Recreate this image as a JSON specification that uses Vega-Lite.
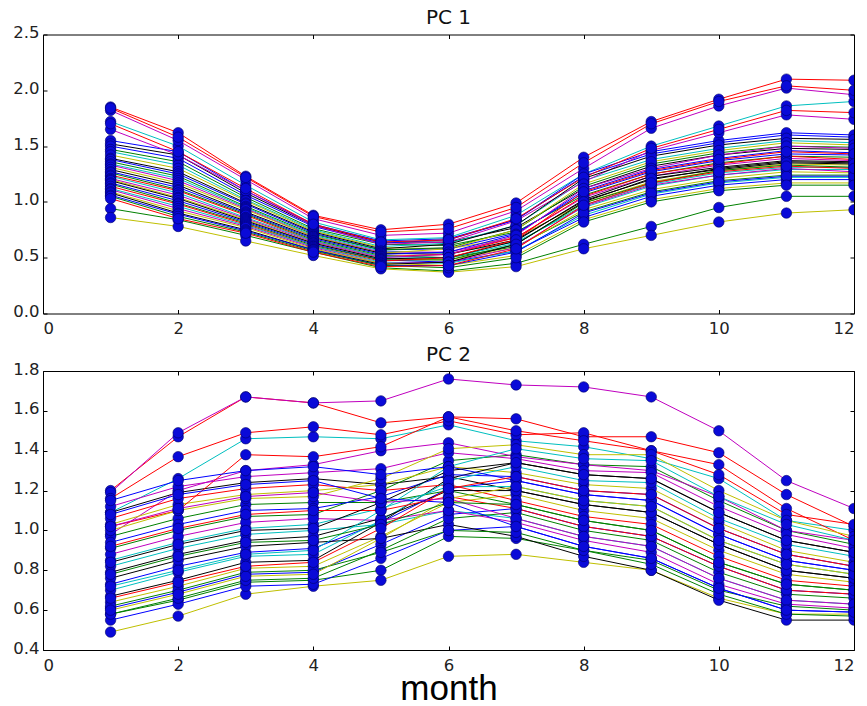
{
"$schema": "https://vega.github.io/schema/vega-lite/v6.json",
"background": "white",
"padding": {"left": 12, "top": 7.5, "right": 5, "bottom": 0},
"spacing": 6.5,
"config": {
  "view": {"stroke": "black", "strokeWidth": 1},
  "font": "DejaVu Sans",
  "axis": {"grid": false, "domain": false, "tickColor": "black", "tickSize": -4, "labelFontSize": 16.5, "labelColor": "#222", "labelFont": "DejaVu Sans", "titleFontWeight": "normal"},
  "axisLeft": {"labelPadding": 8, "labelOffset": -2},
  "axisBottom": {"labelPadding": 11},
  "title": {"fontSize": 20, "fontWeight": "normal", "font": "DejaVu Sans", "color": "#111", "anchor": "middle", "offset": -3.5}
},
"data": {"values": [
{"s":0,"m":1,"pc1":1.55,"pc2":0.73},{"s":0,"m":2,"pc1":1.45,"pc2":0.82},{"s":0,"m":3,"pc1":1.10,"pc2":0.89},{"s":0,"m":4,"pc1":0.80,"pc2":0.91},{"s":0,"m":5,"pc1":0.65,"pc2":1.04},{"s":0,"m":6,"pc1":0.67,"pc2":1.21},{"s":0,"m":7,"pc1":0.84,"pc2":1.25},{"s":0,"m":8,"pc1":1.23,"pc2":1.18},{"s":0,"m":9,"pc1":1.43,"pc2":1.15},{"s":0,"m":10,"pc1":1.53,"pc2":0.98},{"s":0,"m":11,"pc1":1.60,"pc2":0.85},{"s":0,"m":12,"pc1":1.58,"pc2":0.80},
{"s":1,"m":1,"pc1":0.94,"pc2":0.58},{"s":1,"m":2,"pc1":0.84,"pc2":0.65},{"s":1,"m":3,"pc1":0.70,"pc2":0.74},{"s":1,"m":4,"pc1":0.55,"pc2":0.75},{"s":1,"m":5,"pc1":0.41,"pc2":0.80},{"s":1,"m":6,"pc1":0.38,"pc2":0.97},{"s":1,"m":7,"pc1":0.45,"pc2":0.96},{"s":1,"m":8,"pc1":0.62,"pc2":0.90},{"s":1,"m":9,"pc1":0.78,"pc2":0.85},{"s":1,"m":10,"pc1":0.95,"pc2":0.70},{"s":1,"m":11,"pc1":1.05,"pc2":0.62},{"s":1,"m":12,"pc1":1.05,"pc2":0.60},
{"s":2,"m":1,"pc1":1.85,"pc2":1.20},{"s":2,"m":2,"pc1":1.62,"pc2":1.47},{"s":2,"m":3,"pc1":1.23,"pc2":1.67},{"s":2,"m":4,"pc1":0.88,"pc2":1.64},{"s":2,"m":5,"pc1":0.75,"pc2":1.54},{"s":2,"m":6,"pc1":0.80,"pc2":1.57},{"s":2,"m":7,"pc1":0.99,"pc2":1.56},{"s":2,"m":8,"pc1":1.40,"pc2":1.47},{"s":2,"m":9,"pc1":1.72,"pc2":1.47},{"s":2,"m":10,"pc1":1.92,"pc2":1.39},{"s":2,"m":11,"pc1":2.10,"pc2":1.18},{"s":2,"m":12,"pc1":2.09,"pc2":1.02},
{"s":3,"m":1,"pc1":1.72,"pc2":1.09},{"s":3,"m":2,"pc1":1.50,"pc2":1.26},{"s":3,"m":3,"pc1":1.15,"pc2":1.46},{"s":3,"m":4,"pc1":0.82,"pc2":1.47},{"s":3,"m":5,"pc1":0.66,"pc2":1.46},{"s":3,"m":6,"pc1":0.68,"pc2":1.53},{"s":3,"m":7,"pc1":0.88,"pc2":1.45},{"s":3,"m":8,"pc1":1.25,"pc2":1.42},{"s":3,"m":9,"pc1":1.50,"pc2":1.36},{"s":3,"m":10,"pc1":1.68,"pc2":1.26},{"s":3,"m":11,"pc1":1.86,"pc2":1.05},{"s":3,"m":12,"pc1":1.90,"pc2":1.00},
{"s":4,"m":1,"pc1":1.82,"pc2":1.19},{"s":4,"m":2,"pc1":1.55,"pc2":1.49},{"s":4,"m":3,"pc1":1.20,"pc2":1.67},{"s":4,"m":4,"pc1":0.85,"pc2":1.64},{"s":4,"m":5,"pc1":0.70,"pc2":1.65},{"s":4,"m":6,"pc1":0.72,"pc2":1.76},{"s":4,"m":7,"pc1":0.92,"pc2":1.73},{"s":4,"m":8,"pc1":1.30,"pc2":1.72},{"s":4,"m":9,"pc1":1.66,"pc2":1.67},{"s":4,"m":10,"pc1":1.86,"pc2":1.50},{"s":4,"m":11,"pc1":2.02,"pc2":1.25},{"s":4,"m":12,"pc1":1.96,"pc2":1.11},
{"s":5,"m":1,"pc1":0.86,"pc2":0.49},{"s":5,"m":2,"pc1":0.78,"pc2":0.57},{"s":5,"m":3,"pc1":0.65,"pc2":0.68},{"s":5,"m":4,"pc1":0.52,"pc2":0.72},{"s":5,"m":5,"pc1":0.40,"pc2":0.75},{"s":5,"m":6,"pc1":0.37,"pc2":0.87},{"s":5,"m":7,"pc1":0.42,"pc2":0.88},{"s":5,"m":8,"pc1":0.58,"pc2":0.84},{"s":5,"m":9,"pc1":0.70,"pc2":0.80},{"s":5,"m":10,"pc1":0.82,"pc2":0.66},{"s":5,"m":11,"pc1":0.90,"pc2":0.58},{"s":5,"m":12,"pc1":0.93,"pc2":0.58},
{"s":6,"m":1,"pc1":1.52,"pc2":1.09},{"s":6,"m":2,"pc1":1.42,"pc2":1.19},{"s":6,"m":3,"pc1":1.08,"pc2":1.24},{"s":6,"m":4,"pc1":0.79,"pc2":1.26},{"s":6,"m":5,"pc1":0.64,"pc2":1.23},{"s":6,"m":6,"pc1":0.64,"pc2":1.27},{"s":6,"m":7,"pc1":0.77,"pc2":1.20},{"s":6,"m":8,"pc1":1.12,"pc2":1.13},{"s":6,"m":9,"pc1":1.32,"pc2":1.09},{"s":6,"m":10,"pc1":1.42,"pc2":0.93},{"s":6,"m":11,"pc1":1.48,"pc2":0.80},{"s":6,"m":12,"pc1":1.47,"pc2":0.76},
{"s":7,"m":1,"pc1":1.50,"pc2":0.61},{"s":7,"m":2,"pc1":1.39,"pc2":0.69},{"s":7,"m":3,"pc1":1.06,"pc2":0.78},{"s":7,"m":4,"pc1":0.78,"pc2":0.79},{"s":7,"m":5,"pc1":0.63,"pc2":0.93},{"s":7,"m":6,"pc1":0.66,"pc2":1.08},{"s":7,"m":7,"pc1":0.84,"pc2":1.11},{"s":7,"m":8,"pc1":1.25,"pc2":1.02},{"s":7,"m":9,"pc1":1.45,"pc2":0.97},{"s":7,"m":10,"pc1":1.55,"pc2":0.82},{"s":7,"m":11,"pc1":1.62,"pc2":0.70},{"s":7,"m":12,"pc1":1.60,"pc2":0.68},
{"s":8,"m":1,"pc1":1.47,"pc2":0.91},{"s":8,"m":2,"pc1":1.36,"pc2":1.00},{"s":8,"m":3,"pc1":1.04,"pc2":1.07},{"s":8,"m":4,"pc1":0.76,"pc2":1.08},{"s":8,"m":5,"pc1":0.62,"pc2":1.20},{"s":8,"m":6,"pc1":0.61,"pc2":1.35},{"s":8,"m":7,"pc1":0.73,"pc2":1.38},{"s":8,"m":8,"pc1":1.06,"pc2":1.33},{"s":8,"m":9,"pc1":1.25,"pc2":1.32},{"s":8,"m":10,"pc1":1.35,"pc2":1.15},{"s":8,"m":11,"pc1":1.41,"pc2":1.00},{"s":8,"m":12,"pc1":1.40,"pc2":0.93},
{"s":9,"m":1,"pc1":1.84,"pc2":1.16},{"s":9,"m":2,"pc1":1.58,"pc2":1.37},{"s":9,"m":3,"pc1":1.22,"pc2":1.49},{"s":9,"m":4,"pc1":0.87,"pc2":1.52},{"s":9,"m":5,"pc1":0.73,"pc2":1.48},{"s":9,"m":6,"pc1":0.76,"pc2":1.55},{"s":9,"m":7,"pc1":0.95,"pc2":1.48},{"s":9,"m":8,"pc1":1.35,"pc2":1.49},{"s":9,"m":9,"pc1":1.70,"pc2":1.40},{"s":9,"m":10,"pc1":1.90,"pc2":1.33},{"s":9,"m":11,"pc1":2.04,"pc2":1.11},{"s":9,"m":12,"pc1":2.00,"pc2":0.95},
{"s":10,"m":1,"pc1":1.45,"pc2":0.82},{"s":10,"m":2,"pc1":1.33,"pc2":0.91},{"s":10,"m":3,"pc1":1.02,"pc2":0.98},{"s":10,"m":4,"pc1":0.75,"pc2":1.00},{"s":10,"m":5,"pc1":0.60,"pc2":1.03},{"s":10,"m":6,"pc1":0.63,"pc2":1.10},{"s":10,"m":7,"pc1":0.79,"pc2":1.06},{"s":10,"m":8,"pc1":1.19,"pc2":0.97},{"s":10,"m":9,"pc1":1.38,"pc2":0.92},{"s":10,"m":10,"pc1":1.48,"pc2":0.76},{"s":10,"m":11,"pc1":1.55,"pc2":0.65},{"s":10,"m":12,"pc1":1.53,"pc2":0.63},
{"s":11,"m":1,"pc1":1.65,"pc2":0.98},{"s":11,"m":2,"pc1":1.42,"pc2":1.20},{"s":11,"m":3,"pc1":1.10,"pc2":1.30},{"s":11,"m":4,"pc1":0.79,"pc2":1.33},{"s":11,"m":5,"pc1":0.62,"pc2":1.40},{"s":11,"m":6,"pc1":0.64,"pc2":1.44},{"s":11,"m":7,"pc1":0.83,"pc2":1.37},{"s":11,"m":8,"pc1":1.18,"pc2":1.33},{"s":11,"m":9,"pc1":1.46,"pc2":1.30},{"s":11,"m":10,"pc1":1.62,"pc2":1.17},{"s":11,"m":11,"pc1":1.78,"pc2":1.00},{"s":11,"m":12,"pc1":1.74,"pc2":0.95},
{"s":12,"m":1,"pc1":1.42,"pc2":1.03},{"s":12,"m":2,"pc1":1.30,"pc2":1.13},{"s":12,"m":3,"pc1":1.01,"pc2":1.18},{"s":12,"m":4,"pc1":0.74,"pc2":1.20},{"s":12,"m":5,"pc1":0.59,"pc2":1.23},{"s":12,"m":6,"pc1":0.58,"pc2":1.32},{"s":12,"m":7,"pc1":0.68,"pc2":1.29},{"s":12,"m":8,"pc1":0.99,"pc2":1.23},{"s":12,"m":9,"pc1":1.18,"pc2":1.21},{"s":12,"m":10,"pc1":1.28,"pc2":1.04},{"s":12,"m":11,"pc1":1.34,"pc2":0.90},{"s":12,"m":12,"pc1":1.33,"pc2":0.84},
{"s":13,"m":1,"pc1":1.39,"pc2":0.67},{"s":13,"m":2,"pc1":1.27,"pc2":0.75},{"s":13,"m":3,"pc1":0.99,"pc2":0.84},{"s":13,"m":4,"pc1":0.73,"pc2":0.85},{"s":13,"m":5,"pc1":0.58,"pc2":1.04},{"s":13,"m":6,"pc1":0.62,"pc2":1.26},{"s":13,"m":7,"pc1":0.79,"pc2":1.34},{"s":13,"m":8,"pc1":1.21,"pc2":1.28},{"s":13,"m":9,"pc1":1.41,"pc2":1.26},{"s":13,"m":10,"pc1":1.51,"pc2":1.09},{"s":13,"m":11,"pc1":1.57,"pc2":0.95},{"s":13,"m":12,"pc1":1.56,"pc2":0.89},
{"s":14,"m":1,"pc1":1.38,"pc2":0.55},{"s":14,"m":2,"pc1":1.25,"pc2":0.63},{"s":14,"m":3,"pc1":0.98,"pc2":0.72},{"s":14,"m":4,"pc1":0.72,"pc2":0.73},{"s":14,"m":5,"pc1":0.57,"pc2":0.86},{"s":14,"m":6,"pc1":0.58,"pc2":1.00},{"s":14,"m":7,"pc1":0.72,"pc2":1.02},{"s":14,"m":8,"pc1":1.08,"pc2":0.92},{"s":14,"m":9,"pc1":1.27,"pc2":0.86},{"s":14,"m":10,"pc1":1.37,"pc2":0.71},{"s":14,"m":11,"pc1":1.43,"pc2":0.60},{"s":14,"m":12,"pc1":1.42,"pc2":0.59},
{"s":15,"m":1,"pc1":1.36,"pc2":0.97},{"s":15,"m":2,"pc1":1.23,"pc2":1.06},{"s":15,"m":3,"pc1":0.96,"pc2":1.13},{"s":15,"m":4,"pc1":0.71,"pc2":1.14},{"s":15,"m":5,"pc1":0.57,"pc2":1.14},{"s":15,"m":6,"pc1":0.59,"pc2":1.20},{"s":15,"m":7,"pc1":0.75,"pc2":1.13},{"s":15,"m":8,"pc1":1.14,"pc2":1.05},{"s":15,"m":9,"pc1":1.34,"pc2":1.00},{"s":15,"m":10,"pc1":1.44,"pc2":0.84},{"s":15,"m":11,"pc1":1.50,"pc2":0.73},{"s":15,"m":12,"pc1":1.49,"pc2":0.70},
{"s":16,"m":1,"pc1":1.70,"pc2":1.02},{"s":16,"m":2,"pc1":1.45,"pc2":1.10},{"s":16,"m":3,"pc1":1.12,"pc2":1.38},{"s":16,"m":4,"pc1":0.80,"pc2":1.37},{"s":16,"m":5,"pc1":0.64,"pc2":1.42},{"s":16,"m":6,"pc1":0.66,"pc2":1.57},{"s":16,"m":7,"pc1":0.85,"pc2":1.50},{"s":16,"m":8,"pc1":1.22,"pc2":1.45},{"s":16,"m":9,"pc1":1.48,"pc2":1.40},{"s":16,"m":10,"pc1":1.65,"pc2":1.28},{"s":16,"m":11,"pc1":1.82,"pc2":1.08},{"s":16,"m":12,"pc1":1.80,"pc2":1.03},
{"s":17,"m":1,"pc1":1.34,"pc2":0.85},{"s":17,"m":2,"pc1":1.21,"pc2":0.94},{"s":17,"m":3,"pc1":0.95,"pc2":1.01},{"s":17,"m":4,"pc1":0.70,"pc2":1.03},{"s":17,"m":5,"pc1":0.56,"pc2":1.11},{"s":17,"m":6,"pc1":0.54,"pc2":1.22},{"s":17,"m":7,"pc1":0.64,"pc2":1.22},{"s":17,"m":8,"pc1":0.95,"pc2":1.15},{"s":17,"m":9,"pc1":1.14,"pc2":1.12},{"s":17,"m":10,"pc1":1.24,"pc2":0.95},{"s":17,"m":11,"pc1":1.29,"pc2":0.83},{"s":17,"m":12,"pc1":1.29,"pc2":0.78},
{"s":18,"m":1,"pc1":1.33,"pc2":1.12},{"s":18,"m":2,"pc1":1.19,"pc2":1.22},{"s":18,"m":3,"pc1":0.94,"pc2":1.27},{"s":18,"m":4,"pc1":0.69,"pc2":1.29},{"s":18,"m":5,"pc1":0.55,"pc2":1.31},{"s":18,"m":6,"pc1":0.55,"pc2":1.39},{"s":18,"m":7,"pc1":0.68,"pc2":1.36},{"s":18,"m":8,"pc1":1.04,"pc2":1.30},{"s":18,"m":9,"pc1":1.23,"pc2":1.29},{"s":18,"m":10,"pc1":1.33,"pc2":1.12},{"s":18,"m":11,"pc1":1.39,"pc2":0.98},{"s":18,"m":12,"pc1":1.37,"pc2":0.91},
{"s":19,"m":1,"pc1":1.31,"pc2":0.64},{"s":19,"m":2,"pc1":1.17,"pc2":0.72},{"s":19,"m":3,"pc1":0.93,"pc2":0.81},{"s":19,"m":4,"pc1":0.69,"pc2":0.82},{"s":19,"m":5,"pc1":0.54,"pc2":0.97},{"s":19,"m":6,"pc1":0.58,"pc2":1.14},{"s":19,"m":7,"pc1":0.75,"pc2":1.18},{"s":19,"m":8,"pc1":1.16,"pc2":1.10},{"s":19,"m":9,"pc1":1.36,"pc2":1.06},{"s":19,"m":10,"pc1":1.46,"pc2":0.90},{"s":19,"m":11,"pc1":1.53,"pc2":0.78},{"s":19,"m":12,"pc1":1.51,"pc2":0.74},
{"s":20,"m":1,"pc1":1.29,"pc2":0.76},{"s":20,"m":2,"pc1":1.15,"pc2":0.85},{"s":20,"m":3,"pc1":0.91,"pc2":0.92},{"s":20,"m":4,"pc1":0.68,"pc2":0.94},{"s":20,"m":5,"pc1":0.54,"pc2":0.96},{"s":20,"m":6,"pc1":0.53,"pc2":1.03},{"s":20,"m":7,"pc1":0.66,"pc2":0.97},{"s":20,"m":8,"pc1":1.01,"pc2":0.87},{"s":20,"m":9,"pc1":1.20,"pc2":0.80},{"s":20,"m":10,"pc1":1.30,"pc2":0.65},{"s":20,"m":11,"pc1":1.36,"pc2":0.55},{"s":20,"m":12,"pc1":1.35,"pc2":0.55},
{"s":21,"m":1,"pc1":1.27,"pc2":0.94},{"s":21,"m":2,"pc1":1.13,"pc2":1.03},{"s":21,"m":3,"pc1":0.90,"pc2":1.10},{"s":21,"m":4,"pc1":0.67,"pc2":1.11},{"s":21,"m":5,"pc1":0.53,"pc2":1.17},{"s":21,"m":6,"pc1":0.55,"pc2":1.28},{"s":21,"m":7,"pc1":0.71,"pc2":1.27},{"s":21,"m":8,"pc1":1.10,"pc2":1.20},{"s":21,"m":9,"pc1":1.29,"pc2":1.18},{"s":21,"m":10,"pc1":1.39,"pc2":1.01},{"s":21,"m":11,"pc1":1.46,"pc2":0.88},{"s":21,"m":12,"pc1":1.44,"pc2":0.82},
{"s":22,"m":1,"pc1":1.26,"pc2":0.58},{"s":22,"m":2,"pc1":1.11,"pc2":0.66},{"s":22,"m":3,"pc1":0.89,"pc2":0.75},{"s":22,"m":4,"pc1":0.66,"pc2":0.76},{"s":22,"m":5,"pc1":0.52,"pc2":0.90},{"s":22,"m":6,"pc1":0.50,"pc2":1.06},{"s":22,"m":7,"pc1":0.60,"pc2":1.09},{"s":22,"m":8,"pc1":0.91,"pc2":1.00},{"s":22,"m":9,"pc1":1.09,"pc2":0.95},{"s":22,"m":10,"pc1":1.19,"pc2":0.79},{"s":22,"m":11,"pc1":1.24,"pc2":0.68},{"s":22,"m":12,"pc1":1.24,"pc2":0.66},
{"s":23,"m":1,"pc1":1.24,"pc2":1.06},{"s":23,"m":2,"pc1":1.10,"pc2":1.16},{"s":23,"m":3,"pc1":0.88,"pc2":1.21},{"s":23,"m":4,"pc1":0.65,"pc2":1.23},{"s":23,"m":5,"pc1":0.51,"pc2":1.20},{"s":23,"m":6,"pc1":0.53,"pc2":1.23},{"s":23,"m":7,"pc1":0.68,"pc2":1.15},{"s":23,"m":8,"pc1":1.05,"pc2":1.07},{"s":23,"m":9,"pc1":1.25,"pc2":1.03},{"s":23,"m":10,"pc1":1.34,"pc2":0.87},{"s":23,"m":11,"pc1":1.41,"pc2":0.75},{"s":23,"m":12,"pc1":1.38,"pc2":0.72},
{"s":24,"m":1,"pc1":1.23,"pc2":0.70},{"s":24,"m":2,"pc1":1.08,"pc2":0.79},{"s":24,"m":3,"pc1":0.86,"pc2":0.87},{"s":24,"m":4,"pc1":0.65,"pc2":0.88},{"s":24,"m":5,"pc1":0.51,"pc2":1.05},{"s":24,"m":6,"pc1":0.50,"pc2":1.25},{"s":24,"m":7,"pc1":0.63,"pc2":1.32},{"s":24,"m":8,"pc1":0.97,"pc2":1.25},{"s":24,"m":9,"pc1":1.16,"pc2":1.24},{"s":24,"m":10,"pc1":1.26,"pc2":1.06},{"s":24,"m":11,"pc1":1.31,"pc2":0.93},{"s":24,"m":12,"pc1":1.31,"pc2":0.87},
{"s":25,"m":1,"pc1":1.21,"pc2":0.88},{"s":25,"m":2,"pc1":1.06,"pc2":0.97},{"s":25,"m":3,"pc1":0.85,"pc2":1.04},{"s":25,"m":4,"pc1":0.64,"pc2":1.06},{"s":25,"m":5,"pc1":0.50,"pc2":1.05},{"s":25,"m":6,"pc1":0.53,"pc2":1.10},{"s":25,"m":7,"pc1":0.70,"pc2":1.04},{"s":25,"m":8,"pc1":1.12,"pc2":0.95},{"s":25,"m":9,"pc1":1.30,"pc2":0.89},{"s":25,"m":10,"pc1":1.42,"pc2":0.73},{"s":25,"m":11,"pc1":1.50,"pc2":0.63},{"s":25,"m":12,"pc1":1.48,"pc2":0.61},
{"s":26,"m":1,"pc1":1.20,"pc2":1.00},{"s":26,"m":2,"pc1":1.04,"pc2":1.10},{"s":26,"m":3,"pc1":0.84,"pc2":1.16},{"s":26,"m":4,"pc1":0.63,"pc2":1.17},{"s":26,"m":5,"pc1":0.49,"pc2":1.26},{"s":26,"m":6,"pc1":0.48,"pc2":1.41},{"s":26,"m":7,"pc1":0.59,"pc2":1.43},{"s":26,"m":8,"pc1":0.93,"pc2":1.38},{"s":26,"m":9,"pc1":1.11,"pc2":1.38},{"s":26,"m":10,"pc1":1.21,"pc2":1.20},{"s":26,"m":11,"pc1":1.27,"pc2":1.05},{"s":26,"m":12,"pc1":1.26,"pc2":0.97},
{"s":27,"m":1,"pc1":1.19,"pc2":0.79},{"s":27,"m":2,"pc1":1.03,"pc2":0.88},{"s":27,"m":3,"pc1":0.83,"pc2":0.95},{"s":27,"m":4,"pc1":0.63,"pc2":0.97},{"s":27,"m":5,"pc1":0.49,"pc2":1.06},{"s":27,"m":6,"pc1":0.50,"pc2":1.20},{"s":27,"m":7,"pc1":0.65,"pc2":1.20},{"s":27,"m":8,"pc1":1.02,"pc2":1.13},{"s":27,"m":9,"pc1":1.23,"pc2":1.09},{"s":27,"m":10,"pc1":1.31,"pc2":0.93},{"s":27,"m":11,"pc1":1.37,"pc2":0.80},{"s":27,"m":12,"pc1":1.36,"pc2":0.76},
{"s":28,"m":1,"pc1":1.17,"pc2":1.15},{"s":28,"m":2,"pc1":1.01,"pc2":1.25},{"s":28,"m":3,"pc1":0.82,"pc2":1.30},{"s":28,"m":4,"pc1":0.62,"pc2":1.32},{"s":28,"m":5,"pc1":0.48,"pc2":1.28},{"s":28,"m":6,"pc1":0.46,"pc2":1.32},{"s":28,"m":7,"pc1":0.56,"pc2":1.25},{"s":28,"m":8,"pc1":0.86,"pc2":1.18},{"s":28,"m":9,"pc1":1.05,"pc2":1.15},{"s":28,"m":10,"pc1":1.15,"pc2":0.98},{"s":28,"m":11,"pc1":1.20,"pc2":0.85},{"s":28,"m":12,"pc1":1.20,"pc2":0.80},
{"s":29,"m":1,"pc1":1.16,"pc2":0.62},{"s":29,"m":2,"pc1":0.99,"pc2":0.70},{"s":29,"m":3,"pc1":0.81,"pc2":0.79},{"s":29,"m":4,"pc1":0.61,"pc2":0.80},{"s":29,"m":5,"pc1":0.48,"pc2":0.89},{"s":29,"m":6,"pc1":0.48,"pc2":1.00},{"s":29,"m":7,"pc1":0.62,"pc2":0.99},{"s":29,"m":8,"pc1":0.99,"pc2":0.90},{"s":29,"m":9,"pc1":1.17,"pc2":0.83},{"s":29,"m":10,"pc1":1.28,"pc2":0.68},{"s":29,"m":11,"pc1":1.33,"pc2":0.58},{"s":29,"m":12,"pc1":1.31,"pc2":0.57},
{"s":30,"m":1,"pc1":1.14,"pc2":0.92},{"s":30,"m":2,"pc1":0.98,"pc2":1.01},{"s":30,"m":3,"pc1":0.80,"pc2":1.08},{"s":30,"m":4,"pc1":0.60,"pc2":1.10},{"s":30,"m":5,"pc1":0.47,"pc2":1.10},{"s":30,"m":6,"pc1":0.50,"pc2":1.17},{"s":30,"m":7,"pc1":0.66,"pc2":1.11},{"s":30,"m":8,"pc1":1.09,"pc2":1.02},{"s":30,"m":9,"pc1":1.28,"pc2":0.97},{"s":30,"m":10,"pc1":1.38,"pc2":0.82},{"s":30,"m":11,"pc1":1.45,"pc2":0.70},{"s":30,"m":12,"pc1":1.43,"pc2":0.68},
{"s":31,"m":1,"pc1":1.12,"pc2":0.72},{"s":31,"m":2,"pc1":0.96,"pc2":0.80},{"s":31,"m":3,"pc1":0.79,"pc2":0.88},{"s":31,"m":4,"pc1":0.60,"pc2":0.90},{"s":31,"m":5,"pc1":0.46,"pc2":1.10},{"s":31,"m":6,"pc1":0.45,"pc2":1.32},{"s":31,"m":7,"pc1":0.56,"pc2":1.41},{"s":31,"m":8,"pc1":0.88,"pc2":1.36},{"s":31,"m":9,"pc1":1.07,"pc2":1.35},{"s":31,"m":10,"pc1":1.17,"pc2":1.17},{"s":31,"m":11,"pc1":1.22,"pc2":1.03},{"s":31,"m":12,"pc1":1.22,"pc2":0.95},
{"s":32,"m":1,"pc1":1.11,"pc2":1.02},{"s":32,"m":2,"pc1":0.94,"pc2":1.11},{"s":32,"m":3,"pc1":0.78,"pc2":1.17},{"s":32,"m":4,"pc1":0.59,"pc2":1.19},{"s":32,"m":5,"pc1":0.45,"pc2":1.14},{"s":32,"m":6,"pc1":0.46,"pc2":1.16},{"s":32,"m":7,"pc1":0.59,"pc2":1.06},{"s":32,"m":8,"pc1":0.96,"pc2":0.97},{"s":32,"m":9,"pc1":1.15,"pc2":0.92},{"s":32,"m":10,"pc1":1.24,"pc2":0.76},{"s":32,"m":11,"pc1":1.30,"pc2":0.65},{"s":32,"m":12,"pc1":1.27,"pc2":0.63},
{"s":33,"m":1,"pc1":1.09,"pc2":0.60},{"s":33,"m":2,"pc1":0.92,"pc2":0.68},{"s":33,"m":3,"pc1":0.77,"pc2":0.77},{"s":33,"m":4,"pc1":0.58,"pc2":0.78},{"s":33,"m":5,"pc1":0.45,"pc2":0.96},{"s":33,"m":6,"pc1":0.43,"pc2":1.16},{"s":33,"m":7,"pc1":0.52,"pc2":1.22},{"s":33,"m":8,"pc1":0.84,"pc2":1.15},{"s":33,"m":9,"pc1":1.02,"pc2":1.12},{"s":33,"m":10,"pc1":1.12,"pc2":0.95},{"s":33,"m":11,"pc1":1.17,"pc2":0.83},{"s":33,"m":12,"pc1":1.17,"pc2":0.78},
{"s":34,"m":1,"pc1":1.08,"pc2":0.84},{"s":34,"m":2,"pc1":0.90,"pc2":0.93},{"s":34,"m":3,"pc1":0.75,"pc2":1.00},{"s":34,"m":4,"pc1":0.57,"pc2":1.01},{"s":34,"m":5,"pc1":0.44,"pc2":1.14},{"s":34,"m":6,"pc1":0.46,"pc2":1.30},{"s":34,"m":7,"pc1":0.62,"pc2":1.34},{"s":34,"m":8,"pc1":1.00,"pc2":1.28},{"s":34,"m":9,"pc1":1.21,"pc2":1.26},{"s":34,"m":10,"pc1":1.29,"pc2":1.09},{"s":34,"m":11,"pc1":1.35,"pc2":0.95},{"s":34,"m":12,"pc1":1.34,"pc2":0.89},
{"s":35,"m":1,"pc1":1.06,"pc2":1.08},{"s":35,"m":2,"pc1":0.89,"pc2":1.18},{"s":35,"m":3,"pc1":0.74,"pc2":1.23},{"s":35,"m":4,"pc1":0.57,"pc2":1.25},{"s":35,"m":5,"pc1":0.43,"pc2":1.16},{"s":35,"m":6,"pc1":0.43,"pc2":1.14},{"s":35,"m":7,"pc1":0.55,"pc2":1.02},{"s":35,"m":8,"pc1":0.90,"pc2":0.92},{"s":35,"m":9,"pc1":1.08,"pc2":0.86},{"s":35,"m":10,"pc1":1.18,"pc2":0.71},{"s":35,"m":11,"pc1":1.23,"pc2":0.60},{"s":35,"m":12,"pc1":1.23,"pc2":0.59},
{"s":36,"m":1,"pc1":1.05,"pc2":0.78},{"s":36,"m":2,"pc1":0.87,"pc2":0.87},{"s":36,"m":3,"pc1":0.73,"pc2":0.94},{"s":36,"m":4,"pc1":0.56,"pc2":0.95},{"s":36,"m":5,"pc1":0.43,"pc2":1.03},{"s":36,"m":6,"pc1":0.41,"pc2":1.14},{"s":36,"m":7,"pc1":0.50,"pc2":1.13},{"s":36,"m":8,"pc1":0.82,"pc2":1.05},{"s":36,"m":9,"pc1":1.00,"pc2":1.00},{"s":36,"m":10,"pc1":1.10,"pc2":0.84},{"s":36,"m":11,"pc1":1.15,"pc2":0.73},{"s":36,"m":12,"pc1":1.15,"pc2":0.70},
{"s":37,"m":1,"pc1":1.03,"pc2":0.66},{"s":37,"m":2,"pc1":0.85,"pc2":0.74},{"s":37,"m":3,"pc1":0.72,"pc2":0.82},{"s":37,"m":4,"pc1":0.55,"pc2":0.84},{"s":37,"m":5,"pc1":0.42,"pc2":1.01},{"s":37,"m":6,"pc1":0.43,"pc2":1.21},{"s":37,"m":7,"pc1":0.58,"pc2":1.27},{"s":37,"m":8,"pc1":0.97,"pc2":1.20},{"s":37,"m":9,"pc1":1.17,"pc2":1.18},{"s":37,"m":10,"pc1":1.27,"pc2":1.01},{"s":37,"m":11,"pc1":1.32,"pc2":0.88},{"s":37,"m":12,"pc1":1.30,"pc2":0.82}
]},
"vconcat": [
 {
  "width": 811, "height": 279,
  "title": {"text": "PC 1"},
  "layer": [
   {
    "mark": {"type": "line", "strokeWidth": 1, "clip": true},
    "encoding": {
     "x": {"field": "m", "type": "quantitative", "scale": {"domain": [0, 12], "nice": false}, "axis": {"orient": "bottom", "values": [0,2,4,6,8,10,12], "format": "d", "title": null}},
     "y": {"field": "pc1", "type": "quantitative", "scale": {"domain": [0, 2.5], "nice": false, "zero": false}, "axis": {"orient": "left", "values": [0,0.5,1,1.5,2,2.5], "format": ".1f", "title": null}},
     "color": {"field": "s", "type": "nominal", "scale": {"range": ["#0000ff","#008000","#ff0000","#00bfbf","#bf00bf","#bfbf00","#000000"]}, "legend": null},
     "order": {"field": "m", "type": "quantitative"}
    }
   },
   {
    "mark": {"type": "point", "filled": true, "shape": "circle", "size": 110, "fill": "#0a0ad8", "stroke": "#00006a", "strokeWidth": 0.6, "opacity": 1, "clip": true},
    "encoding": {
     "x": {"field": "m", "type": "quantitative", "axis": {"orient": "top", "values": [0,2,4,6,8,10,12], "labels": false, "title": null}},
     "y": {"field": "pc1", "type": "quantitative", "axis": {"orient": "right", "values": [0,0.5,1,1.5,2,2.5], "labels": false, "title": null}}
    }
   }
  ],
  "resolve": {"axis": {"x": "independent", "y": "independent"}}
 },
 {
  "width": 811, "height": 279,
  "title": {"text": "PC 2"},
  "layer": [
   {
    "mark": {"type": "line", "strokeWidth": 1, "clip": true},
    "encoding": {
     "x": {"field": "m", "type": "quantitative", "scale": {"domain": [0, 12], "nice": false}, "axis": {"orient": "bottom", "values": [0,2,4,6,8,10,12], "format": "d", "title": "month", "titleFont": "Liberation Sans", "titleFontSize": 35, "titleFontWeight": "normal", "titleColor": "black", "titlePadding": -2}},
     "y": {"field": "pc2", "type": "quantitative", "scale": {"domain": [0.4, 1.8], "nice": false, "zero": false}, "axis": {"orient": "left", "values": [0.4,0.6,0.8,1.0,1.2,1.4,1.6,1.8], "format": ".1f", "title": null}},
     "color": {"field": "s", "type": "nominal", "legend": null},
     "order": {"field": "m", "type": "quantitative"}
    }
   },
   {
    "mark": {"type": "point", "filled": true, "shape": "circle", "size": 110, "fill": "#0a0ad8", "stroke": "#00006a", "strokeWidth": 0.6, "opacity": 1, "clip": true},
    "encoding": {
     "x": {"field": "m", "type": "quantitative", "axis": {"orient": "top", "values": [0,2,4,6,8,10,12], "labels": false, "title": null}},
     "y": {"field": "pc2", "type": "quantitative", "axis": {"orient": "right", "values": [0.4,0.6,0.8,1.0,1.2,1.4,1.6,1.8], "labels": false, "title": null}}
    }
   }
  ],
  "resolve": {"axis": {"x": "independent", "y": "independent"}}
 }
]
}
